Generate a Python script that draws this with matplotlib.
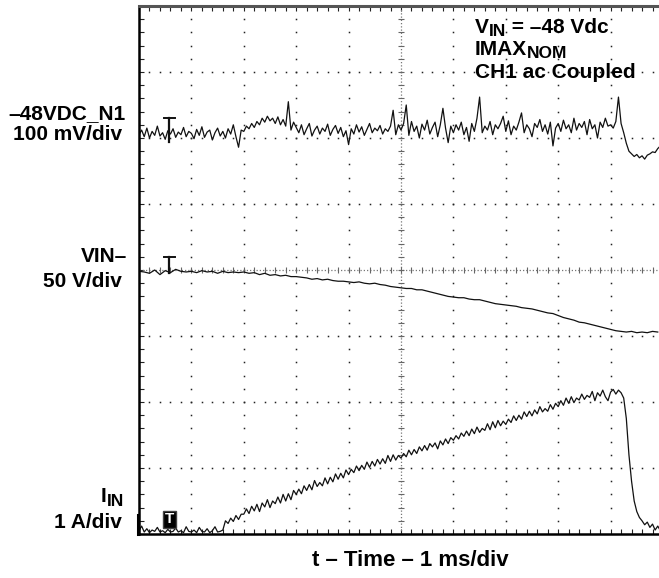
import numpy as np
import matplotlib.pyplot as plt
from matplotlib.ticker import MultipleLocator

plt.rcParams['font.family'] = ['Liberation Sans', 'DejaVu Sans']
plt.rcParams['font.weight'] = 'bold'

# scope record: time in ms, traces in screen divisions (0 = bottom of screen)
t_fast = np.arange(200) * 0.05
t_slow = np.arange(100) * 0.1

ch1_div = [
    6.05, 6.12, 6.02, 6.15, 6.00, 6.10, 6.04, 6.18, 6.03, 6.08, 5.98, 6.11, 6.06, 6.14, 6.01, 6.09, 6.05, 6.16, 6.02, 6.10,
    6.07, 5.99, 6.13, 6.04, 6.17, 6.01, 6.09, 6.12, 5.97, 6.08, 6.15, 6.03, 6.10, 6.00, 6.14, 6.06, 6.20, 6.02, 5.86, 6.12,
    6.10, 6.18, 6.14, 6.22, 6.16, 6.25, 6.20, 6.30, 6.24, 6.33, 6.26, 6.30, 6.22, 6.32, 6.20, 6.28, 6.18, 6.55, 6.12, 6.24,
    6.16, 6.08, 6.20, 6.05, 6.14, 6.22, 6.03, 6.12, 6.18, 6.06, 6.15, 6.10, 6.21, 6.04, 6.13, 6.19, 6.07, 6.16, 6.02, 6.11,
    5.90, 6.14, 6.06, 6.20, 6.09, 6.17, 6.04, 6.13, 6.22, 6.08, 6.15, 6.11, 6.19, 6.06, 6.14, 6.10, 6.18, 6.42, 6.05, 6.20,
    6.12, 6.22, 6.50, 6.04, 6.25, 6.10, 6.18, 6.00, 6.21, 6.12, 6.27, 6.06, 6.16, 6.24, 6.02, 6.20, 6.45, 6.15, 5.93, 6.18,
    6.08, 6.20, 6.12, 6.24, 6.05, 6.16, 5.95, 6.22, 6.10, 6.30, 6.62, 6.08, 6.18, 6.12, 6.25, 6.05, 6.20, 6.14, 6.22, 6.33,
    6.10, 6.26, 6.05, 6.18, 6.12, 6.24, 6.38, 6.08, 6.20, 6.14, 6.02, 6.22, 6.16, 6.28, 6.10, 6.20, 6.06, 6.24, 5.88, 6.15,
    6.22, 6.10, 6.27, 6.14, 6.20, 6.08, 6.30, 6.12, 6.22, 6.16, 6.25, 6.05, 6.28, 6.14, 6.20, 6.00, 6.24, 6.16, 6.30, 6.18,
    6.20, 6.15, 6.25, 6.62, 6.22, 6.08, 5.92, 5.80, 5.76, 5.72, 5.75, 5.70, 5.73, 5.68, 5.74, 5.76, 5.79, 5.78, 5.84, 5.88,
]

vin_div = [
    3.98, 3.97, 3.95, 4.00, 3.93, 3.99, 3.96, 4.01, 3.98, 3.97,
    3.98, 3.96, 3.99, 3.97, 3.98, 3.95, 3.98, 3.96, 3.97, 3.96,
    3.97, 3.95, 3.96, 3.93, 3.95, 3.92, 3.93, 3.91, 3.92, 3.90,
    3.90, 3.89, 3.88, 3.86, 3.87, 3.85, 3.86, 3.84, 3.83, 3.83,
    3.82, 3.81, 3.82, 3.80, 3.79, 3.80, 3.78, 3.77, 3.75, 3.74,
    3.73, 3.72, 3.72, 3.70, 3.70, 3.68, 3.66, 3.64, 3.62, 3.60,
    3.59, 3.58, 3.58, 3.56, 3.55, 3.55, 3.53, 3.51, 3.49, 3.48,
    3.47, 3.46, 3.45, 3.43, 3.42, 3.41, 3.39, 3.37, 3.35, 3.34,
    3.31, 3.28, 3.26, 3.24, 3.21, 3.20, 3.18, 3.16, 3.14, 3.12,
    3.10, 3.08, 3.07, 3.06, 3.07, 3.05, 3.06, 3.05, 3.07, 3.06,
]

iin_div = [
    0.05, 0.12, 0.03, 0.08, 0.02, 0.06, 0.04, 0.10, 0.03, 0.05, 0.02, 0.07, 0.03, 0.04, 0.09, 0.03, 0.05, 0.02, 0.11, 0.04,
    0.03, 0.06, 0.02, 0.10, 0.04, 0.03, 0.08, 0.02, 0.05, 0.11, 0.03, 0.04, 0.06, 0.20, 0.16, 0.24, 0.19, 0.28, 0.22, 0.30,
    0.30, 0.38, 0.31, 0.42, 0.35, 0.45, 0.34, 0.47, 0.41, 0.52, 0.40, 0.50, 0.46, 0.56, 0.47, 0.60, 0.50, 0.61, 0.52, 0.66,
    0.60, 0.68, 0.61, 0.73, 0.66, 0.75, 0.67, 0.81, 0.72, 0.78, 0.73, 0.85, 0.76, 0.86, 0.79, 0.91, 0.83, 0.92, 0.85, 0.97,
    0.90, 0.98, 0.93, 1.03, 0.96, 1.04, 0.98, 1.09, 1.01, 1.10, 1.03, 1.13, 1.06, 1.14, 1.07, 1.19, 1.10, 1.20, 1.12, 1.19,
    1.15, 1.22, 1.17, 1.27, 1.20, 1.28, 1.22, 1.32, 1.26, 1.34, 1.27, 1.37, 1.32, 1.38, 1.29, 1.41, 1.35, 1.44, 1.37, 1.46,
    1.42, 1.49, 1.44, 1.53, 1.48, 1.56, 1.49, 1.59, 1.52, 1.62, 1.54, 1.60, 1.57, 1.67, 1.58, 1.70, 1.61, 1.72, 1.64, 1.71,
    1.66, 1.74, 1.69, 1.79, 1.72, 1.80, 1.74, 1.85, 1.78, 1.86, 1.79, 1.88, 1.82, 1.93, 1.85, 1.90, 1.86, 1.96, 1.89, 1.98,
    1.93, 2.02, 1.95, 2.06, 1.98, 2.08, 1.99, 2.06, 2.03, 2.12, 2.04, 2.10, 2.07, 2.16, 2.02, 2.14, 2.09, 2.18, 2.08, 2.02,
    2.15, 2.19, 2.12, 2.18, 2.14, 2.06, 1.75, 1.20, 0.80, 0.50, 0.34, 0.25, 0.20, 0.14, 0.18, 0.10, 0.15, 0.06, 0.12, 0.05,
]

trig_t = 0.58
ch1_trig = [5.94, 6.30]
vin_trig = [3.95, 4.20]
iin_trig = 0.22

W, H = 659, 578
fig = plt.figure(figsize=(W / 100, H / 100), dpi=100)
ax = fig.add_axes([139 / W, 1 - 534 / H, 524 / W, 528 / H])
ax.set_xlim(0, 10)
ax.set_ylim(0, 8)

# graticule
dot = dict(ls='none', marker='s', ms=1.1, mec='none', color='#222')
minor_y = np.arange(0.2, 8, 0.2)
minor_x = np.arange(0.2, 10, 0.2)
for gx in [1, 2, 3, 4, 6, 7, 8, 9]:
    ax.plot(np.full(len(minor_y), gx), minor_y, **dot)
for gy in [1, 2, 3, 5, 6, 7]:
    ax.plot(minor_x, np.full(len(minor_x), gy), **dot)
ax.axvline(5, ls=(0, (1, 1.6)), lw=0.9, color='#777')
ax.axhline(4, ls=(0, (1, 1.6)), lw=0.9, color='#777')
ax.plot(np.full(len(minor_y), 5), minor_y, ls='none', marker='_', ms=5, mew=0.8, color='#666')
ax.plot(minor_x, np.full(len(minor_x), 4), ls='none', marker='|', ms=5, mew=0.8, color='#666')

ax.xaxis.set_major_locator(MultipleLocator(1))
ax.xaxis.set_minor_locator(MultipleLocator(0.2))
ax.yaxis.set_major_locator(MultipleLocator(1))
ax.yaxis.set_minor_locator(MultipleLocator(0.2))
ax.tick_params(which='both', direction='in', top=True, bottom=True, left=True, right=False,
               labelbottom=False, labelleft=False, length=3.5, width=0.8, color='#222')
for s in ['left', 'bottom']:
    ax.spines[s].set_linewidth(1.8)
    ax.spines[s].set_color('black')
ax.spines['top'].set_linewidth(2.2)
ax.spines['top'].set_color('#555')
ax.spines['right'].set_visible(False)

# traces
trace = dict(color='#111', lw=0.9)
ax.plot(t_fast, ch1_div, **trace)
ax.plot(t_slow, vin_div, **trace)
ax.plot(t_fast, iin_div, **trace)

# trigger markers
for lo, hi in [ch1_trig, vin_trig]:
    ax.plot([trig_t, trig_t], [lo, hi], color='#111', lw=1.6)
    ax.plot([trig_t - 0.1, trig_t + 0.1], [hi, hi], color='#111', lw=1.4)
ax.text(trig_t, iin_trig, 'T', color='white', fontsize=11, ha='center', va='center',
        bbox=dict(boxstyle='square,pad=0.12', fc='black', ec='#444', lw=1))
ax.plot([-0.01, -0.01], [0, 0.29], color='black', lw=2.2, clip_on=False)

FS = 15
SUB = 12.5


def fx(x, y):
    return x / W, 1 - y / H


def label(x, y, parts):
    # text pieces laid left to right, subscripts dropped a little
    first = fig.text(*fx(x, y), parts[0][0], fontsize=FS, fontweight='bold', va='center', ha='left')
    last = first
    for txt, sub in parts[1:]:
        last = ax.annotate(txt, xy=(1, 0.5), xycoords=(last, first),
                           xytext=(0, -3 if sub else 0), textcoords='offset points',
                           fontsize=SUB if sub else FS, fontweight='bold',
                           va='center', ha='left', annotation_clip=False)


label(475, 27.5, [('V', False), ('IN', True), (' = \u201348 Vdc', False)])
label(475, 49.5, [('IMAX', False), ('NOM', True)])
label(475, 72, [('CH1 ac Coupled', False)])
label(101, 497, [('I', False), ('IN', True)])

for txt, x, y in [('\u201348VDC_N1', 126, 113.5), ('100 mV/div', 122, 134.5),
                  ('VIN\u2013', 127, 256), ('50 V/div', 122, 282), ('1 A/div', 122, 522)]:
    fig.text(*fx(x, y), txt, fontsize=FS, fontweight='bold', ha='right', va='center')

fig.text(*fx(410, 561), 't \u2013 Time \u2013 1 ms/div', fontsize=16, fontweight='bold',
         ha='center', va='center')

fig.savefig('out.png', dpi=100)
